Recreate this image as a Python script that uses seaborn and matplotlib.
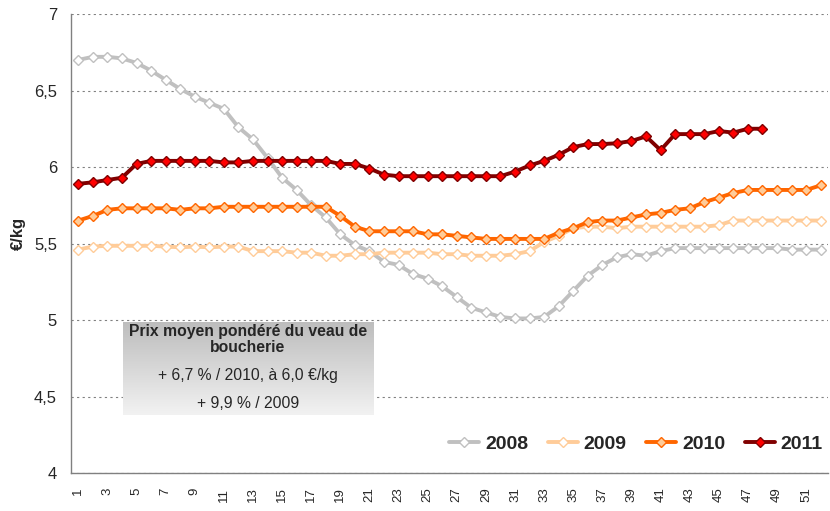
import numpy as np
import pandas as pd
import matplotlib
matplotlib.use("Agg")
import matplotlib.pyplot as plt
import seaborn as sns
from matplotlib.ticker import FuncFormatter, MultipleLocator
from matplotlib.colors import LinearSegmentedColormap

# weekly weighted average price of veal (euro/kg)
weeks = list(range(1, 53))

p2008 = [6.70, 6.72, 6.72, 6.71, 6.68, 6.63, 6.57, 6.51, 6.46, 6.42,
         6.38, 6.26, 6.18, 6.06, 5.93, 5.85, 5.75, 5.67, 5.56, 5.49,
         5.45, 5.38, 5.36, 5.30, 5.27, 5.22, 5.15, 5.08, 5.05, 5.02,
         5.01, 5.01, 5.02, 5.09, 5.19, 5.29, 5.36, 5.41, 5.43, 5.42,
         5.45, 5.47, 5.47, 5.47, 5.47, 5.47, 5.47, 5.47, 5.47, 5.46,
         5.46, 5.46]

p2009 = [5.46, 5.48, 5.485, 5.485, 5.485, 5.485, 5.48, 5.475, 5.48, 5.475,
         5.48, 5.48, 5.45, 5.45, 5.45, 5.44, 5.44, 5.42, 5.42, 5.43,
         5.43, 5.44, 5.44, 5.44, 5.44, 5.43, 5.43, 5.42, 5.42, 5.42,
         5.43, 5.45, 5.51, 5.55, 5.60, 5.61, 5.61, 5.60, 5.61, 5.61,
         5.61, 5.61, 5.61, 5.61, 5.62, 5.65, 5.65, 5.65, 5.65, 5.65,
         5.65, 5.65]

p2010 = [5.65, 5.68, 5.72, 5.73, 5.73, 5.73, 5.73, 5.72, 5.73, 5.73,
         5.74, 5.74, 5.74, 5.74, 5.74, 5.74, 5.74, 5.74, 5.68, 5.61,
         5.58, 5.58, 5.58, 5.58, 5.56, 5.56, 5.55, 5.54, 5.53, 5.53,
         5.53, 5.53, 5.53, 5.57, 5.60, 5.64, 5.65, 5.65, 5.67, 5.69,
         5.70, 5.72, 5.73, 5.77, 5.80, 5.83, 5.85, 5.85, 5.85, 5.85,
         5.85, 5.88]

p2011 = [5.89, 5.90, 5.915, 5.93, 6.02, 6.04, 6.04, 6.04, 6.04, 6.04,
         6.03, 6.03, 6.04, 6.04, 6.04, 6.04, 6.04, 6.04, 6.02, 6.02,
         5.99, 5.95, 5.94, 5.94, 5.94, 5.94, 5.94, 5.94, 5.94, 5.94,
         5.97, 6.01, 6.04, 6.08, 6.13, 6.15, 6.15, 6.155, 6.17, 6.20,
         6.11, 6.215, 6.215, 6.215, 6.235, 6.225, 6.25, 6.25]

years = ["2008", "2009", "2010", "2011"]
series = [p2008, p2009, p2010, p2011]

# line colour, marker face, marker edge
styles = {
    "2008": ("#C0C0C0", "#FFFFFF", "#C0C0C0"),
    "2009": ("#FFCC99", "#FFFFFF", "#FFCC99"),
    "2010": ("#FF6600", "#FFCC99", "#FF6600"),
    "2011": ("#800000", "#FF0000", "#800000"),
}

sns.set_style("white")
plt.rcParams["font.family"] = ["Liberation Sans", "DejaVu Sans"]

fig = plt.figure(figsize=(8.3, 5.11), dpi=100)
ax = fig.add_axes([71 / 830, 1 - 473 / 511, 757 / 830, 459 / 511])

for year, vals in zip(years, series):
    df = pd.DataFrame({"semaine": weeks[:len(vals)], "prix": vals})
    line, face, edge = styles[year]
    sns.lineplot(data=df, x="semaine", y="prix", ax=ax, color=line,
                 linewidth=2.8, marker="D", markersize=5.2,
                 markerfacecolor=face, markeredgecolor=edge,
                 markeredgewidth=1, label=year)

ax.set_xlim(0.5, 52.5)
ax.set_ylim(4, 7)

# y axis
ax.yaxis.set_major_locator(MultipleLocator(0.5))
ax.yaxis.set_major_formatter(FuncFormatter(lambda v, p: ("%g" % v).replace(".", ",")))
ax.tick_params(axis="y", which="major", direction="out", length=4, width=1,
               color="#808080", pad=6, labelsize=12)
ax.grid(axis="y", color="#808080", linestyle=(0, (2, 3)), linewidth=0.8)

# x axis: labels on odd weeks, tick marks between categories
ax.set_xticks(weeks[::2])
ax.set_xticklabels([str(w) for w in weeks[::2]], rotation=90)
ax.set_xticks(np.arange(0.5, 53, 1), minor=True)
ax.tick_params(axis="x", which="major", length=0, pad=10.5, labelsize=9.5)
ax.tick_params(axis="x", which="minor", direction="out", length=4, width=1,
               color="#808080")

ax.set_xlabel("")
ax.set_ylabel("")
for s in ["top", "right"]:
    ax.spines[s].set_visible(False)
for s in ["left", "bottom"]:
    ax.spines[s].set_color("#808080")
    ax.spines[s].set_linewidth(1)

fig.text(18 / 830, 1 - 233 / 511, "€/kg", rotation=90, ha="center", va="center",
         fontsize=12, fontweight="bold")

leg = ax.legend(loc="center right", bbox_to_anchor=(0.993, 0.063), ncol=4,
                frameon=False, handlelength=1.55, columnspacing=1.0,
                handletextpad=0.3, borderaxespad=0, borderpad=0,
                prop={"weight": "bold", "size": 14})

# annotation box with grey gradient
box = fig.add_axes([123 / 830, 1 - 415 / 511, 250 / 830, 93 / 511])
cmap = LinearSegmentedColormap.from_list("g", ["#BDBDBD", "#F2F2F2"])
box.imshow(np.linspace(0, 1, 100).reshape(-1, 1), aspect="auto", cmap=cmap,
           extent=[0, 1, 0, 1], origin="upper")
box.set_axis_off()

fig.text(248 / 830, 1 - 331 / 511, "Prix moyen pondéré du veau de", ha="center",
         va="center", fontsize=11.3, fontweight="bold")
fig.text(248 / 830, 1 - 347 / 511, "boucherie", ha="center", va="center",
         fontsize=11.3, fontweight="bold")
fig.text(248 / 830, 1 - 375 / 511, "+ 6,7 % / 2010, à 6,0 €/kg", ha="center",
         va="center", fontsize=11.3)
fig.text(248 / 830, 1 - 403 / 511, "+ 9,9 % / 2009", ha="center", va="center",
         fontsize=11.3)

fig.savefig("out.png", dpi=100)
